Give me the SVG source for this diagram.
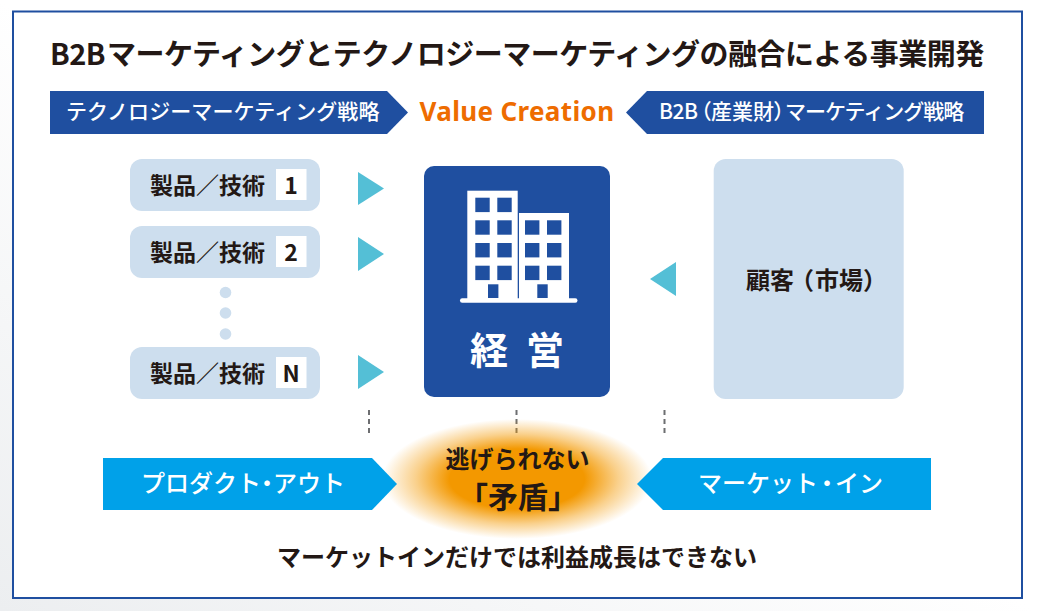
<svg xmlns="http://www.w3.org/2000/svg" width="1037" height="611" viewBox="0 0 1037 611">
<style>
text{font-family:"Noto Sans CJK JP","Noto Sans",sans-serif;}
.d{fill:#231815;font-weight:700;}
.w{fill:#fff;font-weight:500;}
.p{font-feature-settings:"palt";}
.pill{fill:#cddeee;}
.num{fill:#fff;}
.tri{fill:#54bfd6;}
.navy{fill:#1f4fa0;}
.sky{fill:#00a1e9;}
.win{fill:#1f4fa0;}
.bld{fill:#fff;}
.dash{stroke:#6d6e71;stroke-width:2;stroke-dasharray:5 4;fill:none;}
</style>
<defs>
<linearGradient id="bg" x1="1" y1="0" x2="0" y2="1"><stop offset="0" stop-color="#fff"/><stop offset="0.5" stop-color="#fff"/><stop offset="1" stop-color="#eceef0"/></linearGradient>
<radialGradient id="glow"><stop offset="0" stop-color="#f39800"/><stop offset="0.5" stop-color="#f39800"/><stop offset="0.75" stop-color="#f39800" stop-opacity="0.45"/><stop offset="1" stop-color="#f39800" stop-opacity="0"/></radialGradient>
</defs>
<rect width="1037" height="611" fill="url(#bg)"/>
<rect id="frame" x="13" y="11.5" width="1009" height="586.500" fill="#fff" stroke="#1f4fa0" stroke-width="2"/>
<text class="d" y="65" font-size="29"><tspan x="50" letter-spacing="-0.6">B2B</tspan><tspan x="107" letter-spacing="-0.48">マーケティングとテクノロジーマーケティングの融合による事業開発</tspan></text>
<g id="banner-left"><path class="navy" d="M50 91H387L408 112.500L387 134H50Z"/><text class="w" x="66" y="119" font-size="21" letter-spacing="0.1">テクノロジーマーケティング戦略</text></g>
<text id="value-creation" x="419.500" y="121" font-size="26" fill="#ee6c00" font-weight="700" letter-spacing="0.35" style="font-family:'Noto Sans',sans-serif">Value Creation</text>
<g id="banner-right"><path class="navy" d="M984 91H647L626 112.500L647 134H984Z"/><text class="w" y="119" font-size="21"><tspan x="659" letter-spacing="-0.5">B2B</tspan><tspan class="p" dx="3">（産業財）</tspan><tspan x="785" letter-spacing="-1">マーケティング戦略</tspan></text></g>
<g id="p1"><rect class="pill" x="130" y="159" width="190" height="52" rx="12"/><rect class="num" x="276" y="169" width="30.500" height="31"/><text class="d" x="150" y="194" font-size="23">製品／技術</text><text class="d" x="291" y="194" font-size="23" text-anchor="middle">1</text></g>
<g id="p2"><rect class="pill" x="130" y="226" width="190" height="52" rx="12"/><rect class="num" x="276" y="236" width="30.500" height="31"/><text class="d" x="150" y="261" font-size="23">製品／技術</text><text class="d" x="291" y="261" font-size="23" text-anchor="middle">2</text></g>
<g id="dots"><circle class="pill" cx="225.500" cy="292.500" r="5.800"/><circle class="pill" cx="225.500" cy="313" r="5.800"/><circle class="pill" cx="225.500" cy="334" r="5.800"/></g>
<g id="pn"><rect class="pill" x="130" y="347" width="190" height="52" rx="12"/><rect class="num" x="276" y="357" width="30.500" height="31"/><text class="d" x="150" y="382" font-size="23">製品／技術</text><text class="d" x="291" y="382" font-size="23" text-anchor="middle">N</text></g>
<g id="management"><rect class="navy" x="424" y="166" width="186" height="231" rx="10"/>
<rect class="bld" x="467.300" y="190.700" width="50.400" height="109"/><rect class="bld" x="519" y="213" width="50" height="87"/><rect class="bld" x="460" y="298.300" width="117.500" height="4.400" rx="2.200"/>
<g class="win">
<rect x="475.300" y="197.700" width="14.400" height="14.400"/><rect x="497.300" y="197.700" width="14.400" height="14.400"/>
<rect x="475.300" y="220.300" width="14.400" height="14.400"/><rect x="497.300" y="220.300" width="14.400" height="14.400"/>
<rect x="475.300" y="243" width="14.400" height="14.400"/><rect x="497.300" y="243" width="14.400" height="14.400"/>
<rect x="475.300" y="265.700" width="14.400" height="14.400"/><rect x="497.300" y="265.700" width="14.400" height="14.400"/>
<rect x="488" y="284.300" width="10.400" height="13.700"/>
<rect x="525" y="220.300" width="14.400" height="14.400"/><rect x="547" y="220.300" width="14.400" height="14.400"/>
<rect x="525" y="243" width="14.400" height="14.400"/><rect x="547" y="243" width="14.400" height="14.400"/>
<rect x="525" y="265.700" width="14.400" height="14.400"/><rect x="547" y="265.700" width="14.400" height="14.400"/>
<rect x="537.300" y="284.300" width="10.400" height="13.700"/>
</g>
<text class="w" x="470" y="364" font-size="38" style="font-weight:700">経<tspan x="526">営</tspan></text></g>
<g id="customer"><rect class="pill" x="713.700" y="159" width="190" height="240" rx="12"/><text class="d" y="289" font-size="24"><tspan x="746">顧客</tspan><tspan class="p" dx="7">（</tspan><tspan dx="2">市場</tspan><tspan class="p" dx="1">）</tspan></text></g>
<g id="connectors">
<path class="tri" d="M358 172L384 188.500L358 205Z"/><path class="tri" d="M358 237L384 254L358 271Z"/><path class="tri" d="M358 355L384 372L358 389Z"/><path class="tri" d="M676 262L650 279L676 296Z"/>
<path class="dash" d="M369 410V436M516.500 410V436M664.500 410V436"/>
</g>
<ellipse id="glow-shape" cx="517" cy="479" rx="135" ry="60" fill="url(#glow)"/>
<g id="product-out"><path class="sky" d="M103 458H372L397 484L372 510H103Z"/><text class="w" x="141" y="492" font-size="24">プロダクト<tspan class="p">・</tspan>アウト</text></g>
<g id="market-in"><path class="sky" d="M931 458H663L637 484L663 510H931Z"/><text class="w" x="698" y="492" font-size="24">マーケット<tspan class="p" dx="3">・</tspan><tspan dx="2">イン</tspan></text></g>
<g id="contradiction"><text class="d" x="517.500" y="468" font-size="24" text-anchor="middle">逃げられない</text><text class="d" x="518" y="508" font-size="30" text-anchor="middle">「矛盾」</text></g>
<text class="d" x="517" y="566" font-size="24" text-anchor="middle">マーケットインだけでは利益成長はできない</text>
</svg>
